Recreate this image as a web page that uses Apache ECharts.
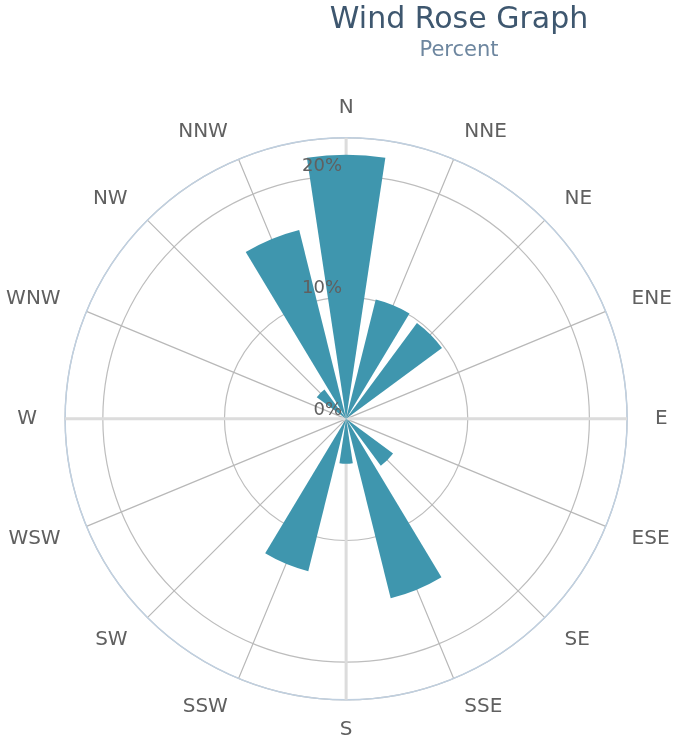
<!DOCTYPE html>
<html>
<head>
<meta charset="utf-8">
<script src="https://cdn.jsdelivr.net/npm/echarts@6/dist/echarts.min.js"></script>
<style>
  html, body { margin: 0; padding: 0; background: #fff; }
  #chart { width: 676px; height: 742px; }
</style>
</head>
<body>
<div id="chart"></div>
<script>
// wind directions, clockwise from north
const directions = ['N', 'NNE', 'NE', 'ENE', 'E', 'ESE', 'SE', 'SSE',
                    'S', 'SSW', 'SW', 'WSW', 'W', 'WNW', 'NW', 'NNW'];
// frequency in percent per direction
const percents = [21.7, 10.1, 9.8, 0, 0, 0, 4.8, 15.2,
                  3.7, 12.9, 0, 0, 0, 0, 3.0, 16.0];
const radiusTicks = [0, 10, 20];

const chart = echarts.init(document.getElementById('chart'));
const center = ['51.2%', '56.45%'];
const R = 281;
const rMax = 23.1;
const font = '"DejaVu Sans", Verdana, sans-serif';
const hidden = { show: false };

const option = {
  animation: false,
  title: {
    text: 'Wind Rose Graph',
    subtext: 'Percent',
    left: 454,
    textAlign: 'center',
    top: 0,
    itemGap: 5,
    textStyle: { fontFamily: font, fontSize: 30, fontWeight: 'normal', color: '#3e576f' },
    subtextStyle: { fontFamily: font, fontSize: 21, color: '#6d869f' }
  },
  // 0: bars + direction labels, 1: grid, 2: cardinal lines + radius labels
  polar: [
    { center: center, radius: R },
    { center: center, radius: R },
    { center: center, radius: R }
  ],
  angleAxis: [
    {
      polarIndex: 0,
      type: 'category',
      data: directions,
      boundaryGap: false,
      startAngle: 90,
      axisLine: hidden,
      axisTick: hidden,
      splitLine: hidden,
      axisLabel: {
        margin: 28, lineHeight: 4,
        color: '#606060', fontSize: 20, fontFamily: font
      }
    },
    {
      polarIndex: 1,
      type: 'value',
      min: 0,
      max: 360,
      interval: 22.5,
      startAngle: 90,
      z: 3,
      axisLine: { lineStyle: { color: '#c0d0e0', width: 1.5 } },
      axisTick: hidden,
      axisLabel: hidden,
      splitLine: { lineStyle: { color: ['rgba(0,0,0,0)', '#b8b8b8', '#b8b8b8', '#b8b8b8'], width: 1.2 } }
    },
    {
      polarIndex: 2,
      type: 'value',
      min: 0,
      max: 360,
      interval: 90,
      startAngle: 90,
      z: 4,
      axisLine: hidden,
      axisTick: hidden,
      axisLabel: hidden,
      splitLine: { lineStyle: { color: '#dcdcdc', width: 3 } }
    }
  ],
  radiusAxis: [
    {
      polarIndex: 0,
      min: 0,
      max: rMax,
      axisLine: hidden,
      axisTick: hidden,
      axisLabel: hidden,
      splitLine: hidden
    },
    {
      polarIndex: 1,
      min: 0,
      max: rMax,
      interval: 10,
      z: 2,
      axisLine: hidden,
      axisTick: hidden,
      axisLabel: hidden,
      splitLine: { lineStyle: { color: '#bdbdbd', width: 1.2 } }
    },
    {
      polarIndex: 2,
      min: 0,
      max: rMax,
      interval: 10,
      z: 20,
      axisLine: hidden,
      axisTick: hidden,
      splitLine: hidden,
      axisLabel: {
        color: '#606060', fontSize: 18, fontFamily: font,
        align: 'right', verticalAlign: 'bottom', margin: 4,
        formatter: v => radiusTicks.includes(v) ? v + '%' : ''
      }
    }
  ],
  series: [{
    type: 'bar',
    coordinateSystem: 'polar',
    polarIndex: 0,
    data: percents,
    barCategoryGap: '24%',
    z: 10,
    itemStyle: { color: '#3f96ae' }
  }]
};
chart.setOption(option);
</script>
</body>
</html>
